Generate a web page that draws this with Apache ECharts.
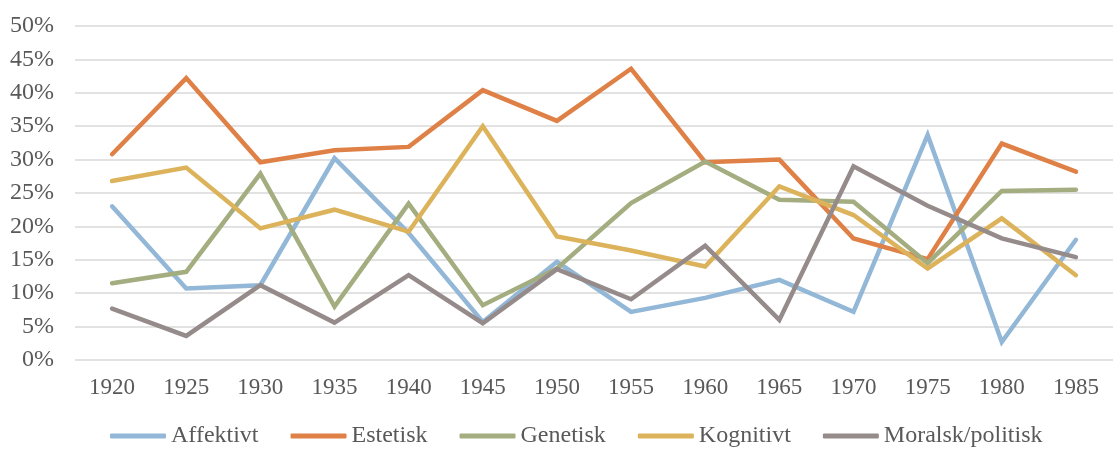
<!DOCTYPE html>
<html>
<head>
<meta charset="utf-8">
<script src="https://cdn.jsdelivr.net/npm/echarts@6/dist/echarts.min.js"></script>
<style>
  html, body { margin: 0; padding: 0; background: #fff; }
  #chart { width: 1113px; height: 450px; }
</style>
</head>
<body>
<div id="chart"></div>
<script>
// years on the x axis
var years = ['1920', '1925', '1930', '1935', '1940', '1945', '1950', '1955', '1960', '1965', '1970', '1975', '1980', '1985'];

// share per category, in percent
var affektivt = [23.0, 10.7, 11.2, 30.2, 19.0, 5.7, 14.7, 7.2, 9.3, 12.0, 7.2, 33.7, 2.7, 18.0];
var estetisk = [30.8, 42.2, 29.6, 31.4, 31.9, 40.4, 35.8, 43.6, 29.6, 30.0, 18.2, 15.1, 32.4, 28.2];
var genetisk = [11.5, 13.2, 27.9, 8.0, 23.4, 8.2, 13.7, 23.5, 29.7, 24.0, 23.7, 14.5, 25.3, 25.5];
var kognitivt = [26.8, 28.8, 19.7, 22.5, 19.2, 35.0, 18.5, 16.4, 14.0, 26.0, 21.7, 13.7, 21.2, 12.7];
var moralsk = [7.7, 3.6, 11.2, 5.6, 12.7, 5.5, 13.6, 9.1, 17.1, 6.0, 29.0, 23.1, 18.2, 15.4];

var seriesNames = ['Affektivt', 'Estetisk', 'Genetisk', 'Kognitivt', 'Moralsk/politisk'];
var seriesData = [affektivt, estetisk, genetisk, kognitivt, moralsk];
var colors = ['#92b7d7', '#df8046', '#a3ad7f', '#dcb35a', '#968b8b'];

var chart = echarts.init(document.getElementById('chart'));

var font = "'Liberation Serif', 'DejaVu Serif', serif";

var option = {
  animation: false,
  color: colors,
  textStyle: { fontFamily: font },
  grid: { left: 75, right: 0, top: 26, bottom: 90 },
  legend: {
    top: 424,
    left: 110,
    padding: 0,
    icon: 'roundRect',
    itemWidth: 56,
    itemHeight: 5,
    itemGap: 32,
    textStyle: { fontFamily: font, fontSize: 24, color: '#595959' },
    data: seriesNames
  },
  xAxis: {
    type: 'category',
    data: years,
    boundaryGap: true,
    axisLine: { show: false },
    axisTick: { show: false },
    axisLabel: { fontFamily: font, fontSize: 23, color: '#595959', margin: 16 }
  },
  yAxis: {
    type: 'value',
    min: 0,
    max: 50,
    interval: 5,
    axisLine: { show: false },
    axisTick: { show: false },
    splitLine: { lineStyle: { color: '#d9d9d9', width: 1.5 } },
    axisLabel: {
      fontFamily: font,
      fontSize: 24,
      color: '#595959',
      margin: 21,
      formatter: function (val) {
        return val + '%';
      }
    }
  },
  series: seriesNames.map(function (name, i) {
    return {
      name: name,
      type: 'line',
      data: seriesData[i],
      symbol: 'none',
      lineStyle: { width: 4.5, cap: 'round', join: 'miter' }
    };
  })
};

chart.setOption(option);
</script>
</body>
</html>
